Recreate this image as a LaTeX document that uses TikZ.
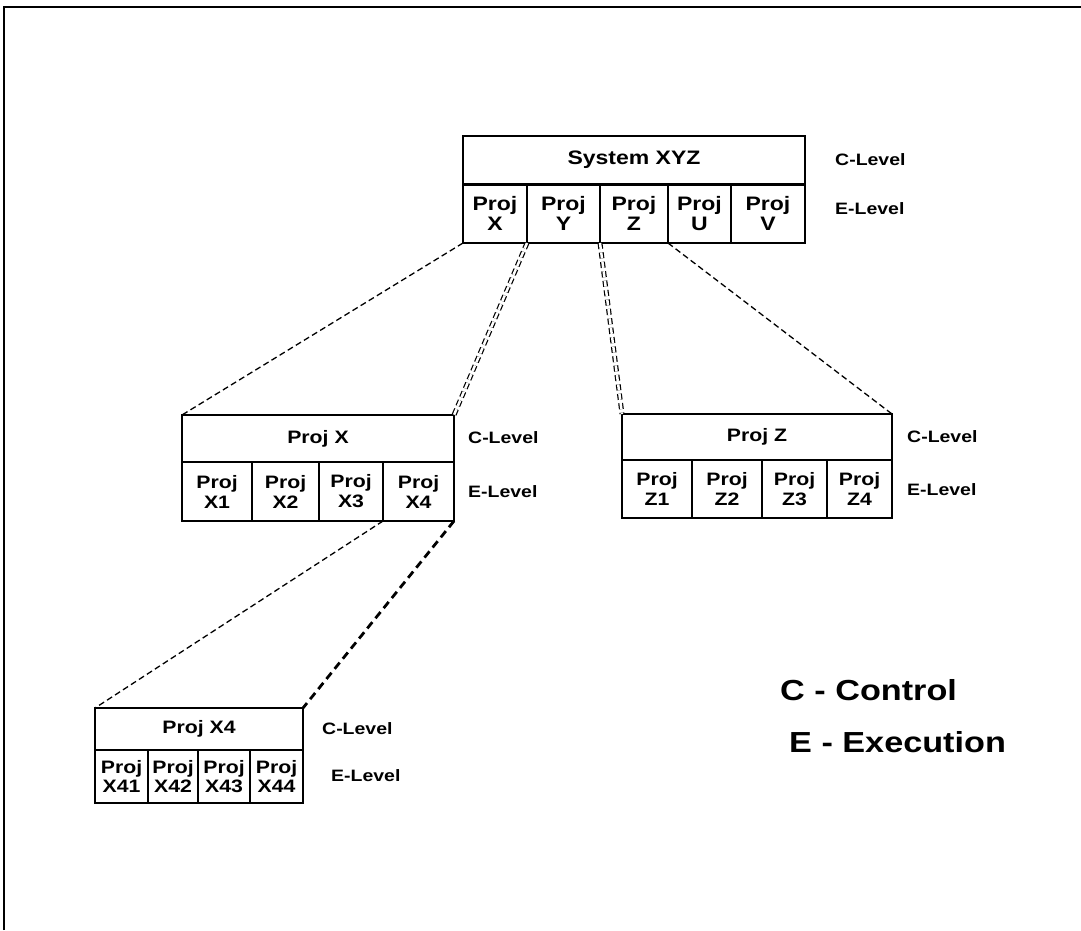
\documentclass[tikz,border=0pt]{standalone}
\usepackage{fontspec}
\newfontfamily\diafont{Liberation Sans}[FakeStretch=1.18]
\begin{document}
\begin{tikzpicture}[x=1pt,y=-1pt,
  box/.style={draw=black,line width=1.6pt,rectangle,inner sep=0pt,outer sep=0pt,anchor=north west,align=center},
  titlebox/.style={box},
  cell/.style={box},
  big/.style={font=\diafont\bfseries\fontsize{19.5}{20.5}\selectfont},
  mid/.style={font=\diafont\bfseries\fontsize{18}{20}\selectfont},
  small/.style={font=\diafont\bfseries\fontsize{18}{18.5}\selectfont},
  lvl/.style={anchor=west,inner sep=0pt,font=\diafont\bfseries\fontsize{16.5}{18}\selectfont},
  legend/.style={anchor=west,inner sep=0pt,font=\diafont\bfseries\fontsize{29}{32}\selectfont},
  link/.style={line width=1.3pt,dash pattern=on 6pt off 3.5pt},
  dlink/.style={draw=black,line width=1.2pt,double=white,double distance=2.5pt,dash pattern=on 6pt off 3.5pt},
  heavy/.style={line width=2.8pt,dash pattern=on 8pt off 5pt}]
\useasboundingbox (0,0) rectangle (1081,930);
% page frame (top and left edges)
\draw[line width=2pt] (4,930) -- (4,7) -- (1081,7);

% ---- System XYZ ----
\node[titlebox,big,minimum width=342,minimum height=48] (sys) at (463,136) {System XYZ};
\node[cell,big,minimum width=64,minimum height=59] (sx) at (463,184) {Proj\\X};
\node[cell,big,minimum width=73,minimum height=59] (sy) at (527,184) {Proj\\Y};
\node[cell,big,minimum width=68,minimum height=59] (sz) at (600,184) {Proj\\Z};
\node[cell,big,minimum width=63,minimum height=59] (su) at (668,184) {Proj\\U};
\node[cell,big,minimum width=74,minimum height=59] (sv) at (731,184) {Proj\\V};
\draw[line width=3pt] (sys.south west) -- (sys.south east);
\node[lvl] (sysc) at (835,160) {C-Level};
\node[lvl] (syse) at (835,209) {E-Level};

% ---- Proj X ----
\node[titlebox,mid,minimum width=272,minimum height=47] (px) at (182,415) {Proj X};
\node[cell,mid,minimum width=70,minimum height=59] (x1) at (182,462) {Proj\\X1};
\node[cell,mid,minimum width=67,minimum height=59] (x2) at (252,462) {Proj\\X2};
\node[cell,mid,minimum width=64,minimum height=59] (x3) at (319,462) {Proj\\X3};
\node[cell,mid,minimum width=71,minimum height=59] (x4) at (383,462) {Proj\\X4};
\node[lvl] (pxc) at (468,438) {C-Level};
\node[lvl] (pxe) at (468,492) {E-Level};

% ---- Proj Z ----
\node[titlebox,mid,minimum width=270,minimum height=46] (pz) at (622,414) {Proj Z};
\node[cell,mid,minimum width=70,minimum height=58] (z1) at (622,460) {Proj\\Z1};
\node[cell,mid,minimum width=70,minimum height=58] (z2) at (692,460) {Proj\\Z2};
\node[cell,mid,minimum width=65,minimum height=58] (z3) at (762,460) {Proj\\Z3};
\node[cell,mid,minimum width=65,minimum height=58] (z4) at (827,460) {Proj\\Z4};
\node[lvl] (pzc) at (907,437) {C-Level};
\node[lvl] (pze) at (907,490) {E-Level};

% ---- Proj X4 ----
\node[titlebox,small,minimum width=208,minimum height=42] (p4) at (95,708) {Proj X4};
\node[cell,small,minimum width=53,minimum height=53] (x41) at (95,750) {Proj\\X41};
\node[cell,small,minimum width=50,minimum height=53] (x42) at (148,750) {Proj\\X42};
\node[cell,small,minimum width=52,minimum height=53] (x43) at (198,750) {Proj\\X43};
\node[cell,small,minimum width=53,minimum height=53] (x44) at (250,750) {Proj\\X44};
\node[lvl] (p4c) at (322,729) {C-Level};
\node[lvl] (p4e) at (331,776) {E-Level};

% ---- legend ----
\node[legend] (legc) at (780,690) {C - Control};
\node[legend] (lege) at (789,742) {E - Execution};

% ---- decomposition links ----
\draw[link]  (sx.south west) -- (px.north west);
\draw[dlink] (sy.south west) -- (px.north east);
\draw[dlink] (sz.south west) -- (pz.north west);
\draw[link]  (su.south west) -- (pz.north east);
\draw[link]  (x4.south west) -- (p4.north west);
\draw[heavy] (x4.south east) -- (p4.north east);
\end{tikzpicture}
\end{document}
